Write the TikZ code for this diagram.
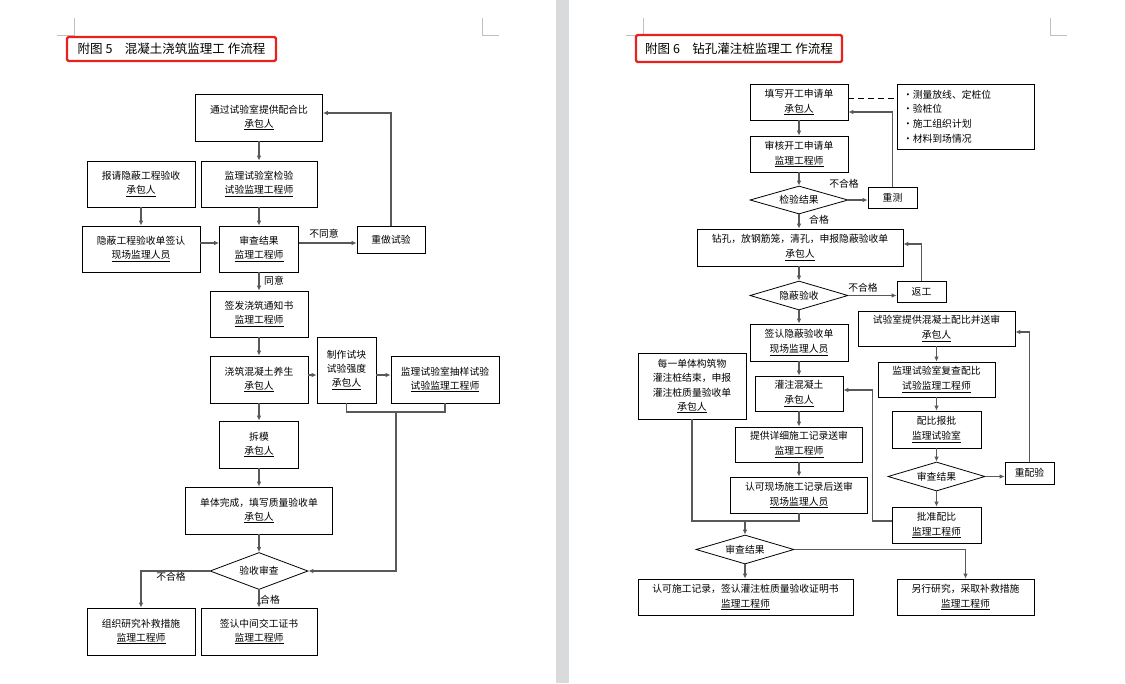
\documentclass[tikz,border=0pt]{standalone}
\usepackage{fontspec}
\newfontfamily\cjk{Noto Sans CJK SC}
\usetikzlibrary{shapes.geometric,arrows.meta}

\colorlet{box edge}{black}
\colorlet{flow line}{black!65}
\definecolor{title edge}{RGB}{232,32,30}
\definecolor{page gap}{RGB}{217,218,220}
\definecolor{crop mark}{RGB}{192,192,192}
\tikzset{
  box/.style={draw=box edge, line width=0.8pt, align=center, inner sep=1pt, font=\cjk\fontsize{9.8}{14}\selectfont},
  lbox/.style={box, execute at end node={\\[-4pt]\mbox{}}},
  rbox/.style={box, font=\cjk\fontsize{9.8}{15}\selectfont},
  check/.style={box, shape=diamond, aspect=3.5, inner sep=0pt},
  note/.style={inner sep=0pt, font=\cjk\fontsize{9.8}{12}\selectfont},
  titlebox/.style={draw=title edge, line width=2.2pt, rounded corners=1.5pt, inner sep=0pt, font=\cjk\fontsize{12.5}{14}\selectfont},
  boxsize/.style 2 args={minimum width=#1pt, minimum height=#2pt},
  crop/.style={draw=crop mark, line width=0.8pt}
  }
\tikzstyle{flow} = [draw=flow line, line width=1.2pt, -{Latex[length=5pt,width=4.6pt]}]
\tikzstyle{link} = [draw=flow line, line width=1.2pt, -]

\begin{document}
\begin{tikzpicture}[x=1pt, y=-1pt]
   \useasboundingbox (0,0) rectangle (1126,683);
   % the two pages
   \fill[page gap] (556,0) rectangle (569,683);
   \draw[draw=page gap] (1125.5,0) -- (1125.5,683);
   \draw[crop] (74,18) -- (74,35) -- (57,35);
   \draw[crop] (482,18) -- (482,35) -- (499,35);
   \draw[crop] (643,18) -- (643,35) -- (626,35);
   \draw[crop] (1050,18) -- (1050,35) -- (1067,35);

   % figure 5
   \node[titlebox, boxsize={209}{24}] (title5) at (171.5,49) {附图 5　混凝土浇筑监理工 作流程};
   \node[lbox, boxsize={127}{47}] (mix) at (259,117.5) {通过试验室提供配合比\\\underline{承包人}};
   \node[lbox, boxsize={108}{46}] (hidereq) at (141,184) {报请隐蔽工程验收\\\underline{承包人}};
   \node[lbox, boxsize={116}{46}] (labtest) at (259,184) {监理试验室检验\\\underline{试验监理工程师}};
   \node[lbox, boxsize={118}{46}] (hidesign) at (141,249) {隐蔽工程验收单签认\\\underline{现场监理人员}};
   \node[lbox, boxsize={79}{46}] (review) at (259,249) {审查结果\\\underline{监理工程师}};
   \node[box, boxsize={68}{27}] (retest) at (391,239.5) {重做试验};
   \node[lbox, boxsize={98}{46}] (notice) at (259,314) {签发浇筑通知书\\\underline{监理工程师}};
   \node[lbox, boxsize={98}{47}] (pour) at (259,379.5) {浇筑混凝土养生\\\underline{承包人}};
   \node[lbox, boxsize={59}{66}] (cube) at (346.5,370) {制作试块\\试验强度\\\underline{承包人}};
   \node[lbox, boxsize={108}{47}] (sample) at (445,379.5) {监理试验室抽样试验\\\underline{试验监理工程师}};
   \node[lbox, boxsize={79}{47}] (strip) at (259,444.5) {拆模\\\underline{承包人}};
   \node[lbox, boxsize={147}{47}] (finish) at (259,510.5) {单体完成，填写质量验收单\\\underline{承包人}};
   \node[check, boxsize={98}{37}] (accept) at (259,571) {验收审查};
   \node[lbox, boxsize={108}{47}] (remedy) at (141,631.5) {组织研究补救措施\\\underline{监理工程师}};
   \node[lbox, boxsize={116}{47}] (cert) at (259,631.5) {签认中间交工证书\\\underline{监理工程师}};

   \path[flow] (mix.south) -- (labtest.north);
   \path[flow] (hidereq.south) -- (hidesign.north);
   \path[flow] (labtest.south) -- (review.north);
   \path[flow] ([yshift=6pt]hidesign.east) -- ([yshift=6pt]review.west);
   \path[flow] ([yshift=6pt]review.east) -- ([yshift=6pt]review.east -| retest.west);
   \path[flow] (retest.north) |- ([yshift=4.5pt]mix.east);
   \path[flow] (review.south) -- (notice.north);
   \path[flow] (notice.south) -- (pour.north);
   \path[flow] ([yshift=4.5pt]pour.east) -- ([yshift=4.5pt]pour.east -| cube.west);
   \path[flow] ([yshift=4.5pt]pour.east -| cube.east) -- ([yshift=4.5pt]pour.east -| sample.west);
   \path[flow] (pour.south) -- (strip.north);
   \path[flow] (strip.south) -- (finish.north);
   \path[flow] (finish.south) -- (accept.north);
   \coordinate (testjoin) at (396,412);
   \path[link] (cube.south) |- (testjoin) -| (sample.south);
   \path[flow] (testjoin) |- (accept.east);
   \path[flow] (accept.west) -| (remedy.north);
   \path[flow] (accept.south) -- (cert.north);

   \node[note] (disagree) at (324,234) {不同意};
   \node[note] (agree) at (274,281) {同意};
   \node[note] (fail5) at (171,577) {不合格};
   \node[note] (pass5) at (270,600) {合格};

   % figure 6
   \node[titlebox, boxsize={206}{27}] (title6) at (739,48.5) {附图 6　钻孔灌注桩监理工 作流程};
   \node[rbox, boxsize={98}{36}] (apply) at (799,102) {填写开工申请单\\\underline{承包人}};
   \node[box, boxsize={137}{65}, align=left, text width=125pt, inner xsep=6pt, font=\cjk\fontsize{9.8}{14.7}\selectfont] (prep) at (965.5,116.5) {・测量放线、定桩位\\・验桩位\\・施工组织计划\\・材料到场情况};
   \node[rbox, boxsize={98}{36}] (approve) at (799,154) {审核开工申请单\\\underline{监理工程师}};
   \node[check, boxsize={98}{28}] (survey) at (799,200) {检验结果};
   \node[box, boxsize={49}{21}] (remeasure) at (892.5,197.5) {重测};
   \node[rbox, boxsize={206}{37}] (drill) at (800,247.5) {钻孔，放钢筋笼，清孔，申报隐蔽验收单\\\underline{承包人}};
   \node[check, boxsize={98}{29}] (hidden) at (799,295.5) {隐蔽验收};
   \node[box, boxsize={49}{21}] (rework) at (921.5,291.5) {返工};
   \node[rbox, boxsize={98}{37}] (hidesign6) at (799,342.5) {签认隐蔽验收单\\\underline{现场监理人员}};
   \node[box, boxsize={108}{66}, font=\cjk\fontsize{9.8}{14.5}\selectfont] (pile) at (692,386) {每一单体构筑物\\灌注桩结束，申报\\灌注桩质量验收单\\\underline{承包人}};
   \node[rbox, boxsize={88}{35}] (concrete) at (799,393.5) {灌注混凝土\\\underline{承包人}};
   \node[rbox, boxsize={127}{35}] (record) at (799,444.5) {提供详细施工记录送审\\\underline{监理工程师}};
   \node[rbox, boxsize={137}{36}] (recordok) at (799,495) {认可现场施工记录后送审\\\underline{现场监理人员}};
   \node[check, boxsize={98}{29}] (final) at (745,549.5) {审查结果};
   \node[rbox, boxsize={215}{36}] (pilecert) at (745.5,597) {认可施工记录，签认灌注桩质量验收证明书\\\underline{监理工程师}};
   \node[rbox, boxsize={137}{36}] (pileremedy) at (965.5,597) {另行研究，采取补救措施\\\underline{监理工程师}};
   \node[rbox, boxsize={157}{35}] (mixsubmit) at (936.5,328.5) {试验室提供混凝土配比并送审\\\underline{承包人}};
   \node[rbox, boxsize={117}{35}] (mixcheck) at (936.5,379.5) {监理试验室复查配比\\\underline{试验监理工程师}};
   \node[rbox, boxsize={89}{37}] (mixreport) at (936.5,429.5) {配比报批\\\underline{监理试验室}};
   \node[check, boxsize={97}{29}] (mixreview) at (936.5,476.5) {审查结果};
   \node[box, boxsize={49}{22}] (remix) at (1029.5,473) {重配验};
   \node[rbox, boxsize={89}{36}] (mixok) at (936.5,525) {批准配比\\\underline{监理工程师}};

   \path[flow] (apply.south) -- (approve.north);
   \path[flow] (approve.south) -- (survey.north);
   \path[flow] (survey.east) -- (survey.east -| remeasure.west);
   \path[flow] (remeasure.north) |- ([yshift=-10pt]apply.east);
   \draw[line width=0.9pt, dash pattern=on 6pt off 4pt] ([yshift=4pt]apply.east) -- ([yshift=4pt]apply.east -| prep.west);
   \path[flow] (survey.south) -- (survey.south |- drill.north);
   \path[flow] (hidden.north |- drill.south) -- (hidden.north);
   \path[flow] (hidden.east) -- (hidden.east -| rework.west);
   \path[flow] (rework.north) |- ([yshift=3.5pt]drill.east);
   \path[flow] (hidden.south) -- (hidesign6.north);
   \path[flow] (hidesign6.south) -- (concrete.north);
   \path[flow] (concrete.south) -- (record.north);
   \path[flow] (record.south) -- (recordok.north);
   \coordinate (pilejoin) at (745,521);
   \path[link] (pile.south) |- (pilejoin) -| (recordok.south);
   \path[flow] (pilejoin) -- (final.north);
   \path[flow] (final.south) -- (final.south |- pilecert.north);
   \path[flow] (final.east) -| (pileremedy.north);
   \path[flow] (mixsubmit.south) -- (mixcheck.north);
   \path[flow] (mixcheck.south) -- (mixreport.north);
   \path[flow] (mixreport.south) -- (mixreview.north);
   \path[flow] (mixreview.south) -- (mixok.north);
   \path[flow] (mixreview.east) -- (mixreview.east -| remix.west);
   \path[flow] (remix.north) |- ([yshift=-3.5pt]mixsubmit.east);
   \path[flow] ([yshift=4pt]mixok.west) -- ++(-19,0) |- ([yshift=3.5pt]concrete.east);

   \node[note] (fail6a) at (844,184) {不合格};
   \node[note] (pass6a) at (819,220) {合格};
   \node[note] (fail6b) at (863,288) {不合格};
\end{tikzpicture}
\end{document}
